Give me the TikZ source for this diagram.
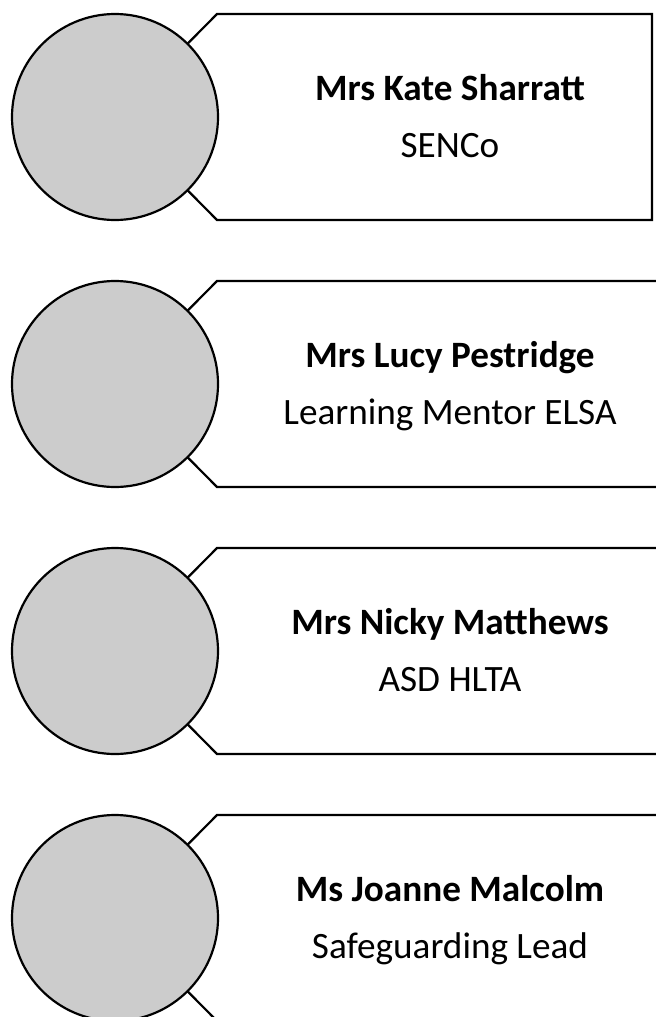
\documentclass[tikz,border=0pt]{standalone}
\usepackage{fontspec}
\setmainfont{Carlito}
\tikzset{
  photo/.style={circle,draw,line width=1.1pt,fill=black!20,minimum size=103pt,inner sep=0pt},
  tagbox/.style={draw,line width=1.1pt,fill=white,line join=miter},
  staffname/.style={anchor=base,font=\fontsize{18.6}{22}\selectfont\bfseries},
  staffrole/.style={anchor=base,font=\fontsize{18.6}{22}\selectfont}
}
\begin{document}
\begin{tikzpicture}[x=0.5pt,y=-0.5pt]
  \useasboundingbox (0,0) rectangle (656,1017);
  \clip (0,0) rectangle (656,1017);
  \foreach \i/\rx/\who/\job in {0/652/Mrs Kate Sharratt/SENCo,
                                1/670/Mrs Lucy Pestridge/Learning Mentor ELSA,
                                2/670/Mrs Nicky Matthews/ASD HLTA,
                                3/670/Ms Joanne Malcolm/Safeguarding Lead}
  {
    \pgfmathsetmacro\ytop{14+267*\i}
    \coordinate (tip\i) at (115,\ytop+103);
    \draw[tagbox] (tip\i) -- (217,\ytop) -- (\rx,\ytop) -- (\rx,\ytop+206) -- (217,\ytop+206) -- cycle;
    \node[photo] (face\i) at (tip\i) {};
    \node[staffname] (who\i) at (450,\ytop+86) {\who};
    \node[staffrole] (job\i) at (450,\ytop+143) {\job};
  }
\end{tikzpicture}
\end{document}
